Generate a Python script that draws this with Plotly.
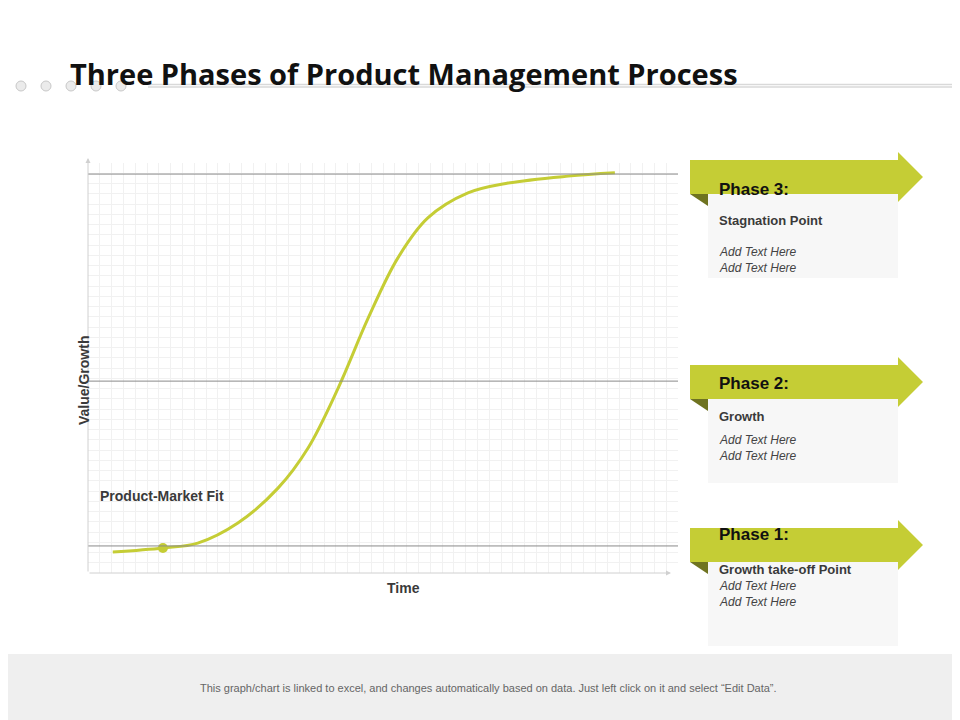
import plotly.graph_objects as go

W, H = 960, 720

# curve data (x: time 0-100, y: value 0-100)
time = [4.2, 12.7, 18.6, 25.4, 32.2, 37.3, 42.4, 47.5, 52.5, 57.6, 64.4, 71.2, 81.4, 89.3]
value = [5.1, 6.1, 7.3, 12.2, 20.7, 30.5, 45.1, 62.2, 76.8, 86.6, 92.7, 95.1, 96.8, 97.6]
level_lines = [97.3, 46.8, 6.6]
fit_point = (12.7, 6.1)

phases = ["Phase 3:", "Phase 2:", "Phase 1:"]
phase_subtitles = ["Stagnation Point", "Growth", "Growth take-off Point"]
phase_tops = [152, 357, 520]

GREEN = "#c5cd35"
DARK = "#6f7320"


def px(x):
    return x / W


def py(y):
    return 1 - y / H


def path(points):
    return "M " + " L ".join(f"{px(a):.5f},{py(b):.5f}" for a, b in points) + " Z"


fig = go.Figure()
fig.add_trace(go.Scatter(x=time, y=value, mode="lines", line=dict(color=GREEN, width=3, shape="spline"),
                         hoverinfo="skip"))
fig.add_trace(go.Scatter(x=[fit_point[0]], y=[fit_point[1]], mode="markers",
                         marker=dict(color=GREEN, size=10), hoverinfo="skip"))

shapes = []
for lv in level_lines:
    shapes.append(dict(type="line", xref="x", yref="y", x0=0, x1=100, y0=lv, y1=lv,
                       line=dict(color="#8a8a8a", width=1)))
# footer
shapes.append(dict(type="rect", xref="paper", yref="paper", x0=0, x1=1, y0=0, y1=py(646),
                   fillcolor="#efefef", line_width=0, layer="below"))
# header decor
for cx in [13, 38, 63, 88, 113]:
    shapes.append(dict(type="circle", xref="paper", yref="paper", x0=px(cx - 5), x1=px(cx + 5),
                       y0=py(83), y1=py(73), fillcolor="#ebebeb", line=dict(color="#c8c8c8", width=1)))
for yy in [76.5, 79]:
    shapes.append(dict(type="line", xref="paper", yref="paper", x0=px(140), x1=1, y0=py(yy), y1=py(yy),
                       line=dict(color="#d9d9d9", width=1.5)))

annotations = []
for name, sub, top in zip(phases, phase_subtitles, phase_tops):
    b = top + 34
    shapes.append(dict(type="rect", xref="paper", yref="paper", x0=px(700), x1=px(890), y0=py(b + 84), y1=py(b),
                       fillcolor="#f7f7f7", line_width=0, layer="below"))
    shapes.append(dict(type="path", xref="paper", yref="paper",
                       path=path([(682, top), (890, top), (890, top - 8), (915, top + 17), (890, b + 8),
                                  (890, b), (682, b)]),
                       fillcolor=GREEN, line_width=0))
    shapes.append(dict(type="path", xref="paper", yref="paper", path=path([(682, b), (700, b), (700, b + 12)]),
                       fillcolor=DARK, line_width=0))
    annotations.append(dict(x=px(709), y=py(top + 18), xref="paper", yref="paper", text=f"<b>{name}</b>",
                            showarrow=False, xanchor="left", font=dict(size=17, color="#111", family="Arial")))
    annotations.append(dict(x=px(709), y=py(b + 17), xref="paper", yref="paper", text=f"<b>{sub}</b>",
                            showarrow=False, xanchor="left", font=dict(size=13, color="#3a3a3a", family="Arial")))
    annotations.append(dict(x=px(709), y=py(b + 49), xref="paper", yref="paper",
                            text="<i>Add Text Here<br>Add Text Here</i>", showarrow=False, xanchor="left",
                            align="left", font=dict(size=12, color="#444", family="Arial")))

# axis arrows
annotations.append(dict(x=px(80), y=py(150), ax=0, ay=415, xref="paper", yref="paper",
                        text="", showarrow=True, arrowhead=2, arrowsize=1, arrowwidth=1,
                        arrowcolor="#d0d0d0"))
annotations.append(dict(x=px(663), y=py(565), ax=-583, ay=0, xref="paper", yref="paper",
                        text="", showarrow=True, arrowhead=2, arrowsize=1, arrowwidth=1,
                        arrowcolor="#d0d0d0"))
annotations += [
    dict(x=px(60), y=py(44), xref="paper", yref="paper", text="<b>Three Phases of Product Management Process</b>",
         showarrow=False, xanchor="left", font=dict(size=29, color="#111", family="Open Sans")),
    dict(x=px(90), y=py(498), xref="paper", yref="paper", text="<b>Product-Market Fit</b>", showarrow=False,
         xanchor="left", font=dict(size=14, color="#3a3a3a", family="Arial")),
    dict(x=px(395), y=py(590), xref="paper", yref="paper", text="<b>Time</b>", showarrow=False,
         font=dict(size=14, color="#3a3a3a", family="Arial")),
    dict(x=px(66), y=py(373), xref="paper", yref="paper", text="<b>Value/Growth</b>", showarrow=False,
         textangle=-90, font=dict(size=14, color="#3a3a3a", family="Arial")),
    dict(x=0.5, y=py(688), xref="paper", yref="paper",
         text="This graph/chart is linked to excel, and changes automatically based on data. Just left click on it and select \u201cEdit Data\u201d.",
         showarrow=False, font=dict(size=11, color="#666", family="Arial")),
]

fig.update_layout(
    width=W, height=H, margin=dict(l=0, r=0, t=0, b=0),
    paper_bgcolor="white", plot_bgcolor="white", showlegend=False,
    shapes=shapes, annotations=annotations,
    xaxis=dict(domain=[px(80), px(670)], range=[0, 100], showticklabels=False, zeroline=False,
               gridcolor="#f1f1f1", dtick=2, showline=False),
    yaxis=dict(domain=[py(565), py(155)], range=[0, 100], showticklabels=False, zeroline=False,
               gridcolor="#f1f1f1", dtick=2.5, showline=False),
)

fig.write_html("out.html")
